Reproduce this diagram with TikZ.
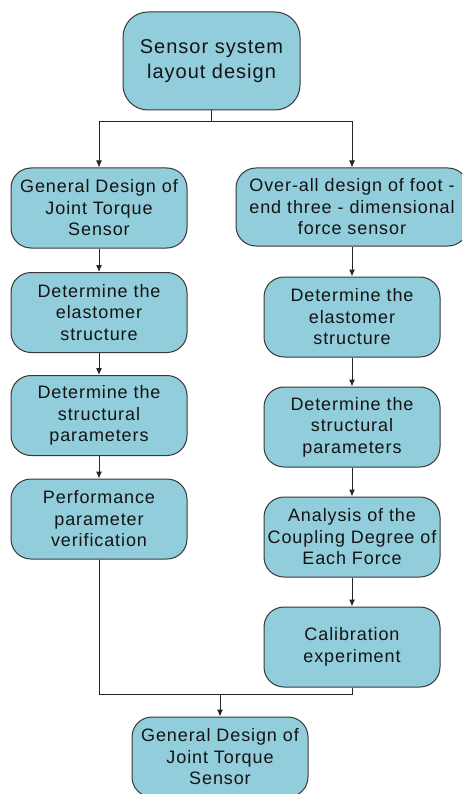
\documentclass[tikz,border=0pt]{standalone}
\usepackage{fontspec}
\setmainfont{Liberation Sans}[LetterSpace=5]
\usetikzlibrary{arrows.meta}
\definecolor{boxfill}{RGB}{146,205,220}
\definecolor{boxline}{RGB}{55,55,55}
\definecolor{txt}{RGB}{20,20,20}
\tikzset{
  stepbox/.style={draw=boxline, line width=1pt, fill=boxfill, rounded corners=20pt,
    minimum width=176pt, minimum height=80pt, inner sep=0pt, align=center,
    text=txt, font=\fontsize{18}{21.5}\selectfont},
  conn/.style={draw=black!85, line width=1pt},
  arr/.style={conn, -{Latex[length=7pt,width=6pt]}}
}
\begin{document}
\begin{tikzpicture}[x=1pt,y=-1pt]
\useasboundingbox (0,0) rectangle (461,794);
\node[stepbox, minimum width=177pt, minimum height=98pt, rounded corners=25pt,
  font=\fontsize{20}{25}\selectfont] (top) at (211.5,61) {Sensor system\\layout design};
\node[stepbox] (L1) at (99,208) {General Design of\\Joint Torque\\Sensor};
\node[stepbox] (L2) at (99,312.5) {Determine the\\elastomer\\structure};
\node[stepbox] (L3) at (99,415.5) {Determine the\\structural\\parameters};
\node[stepbox] (L4) at (99,519) {Performance\\parameter\\verification};
\node[stepbox, minimum width=232pt, minimum height=78pt] (R1) at (352,207) {Over-all design of foot -\\end three - dimensional\\force sensor};
\node[stepbox] (R2) at (352,317) {Determine the\\elastomer\\structure};
\node[stepbox] (R3) at (352,427) {Determine the\\structural\\parameters};
\node[stepbox] (R4) at (352,537) {Analysis of the\\Coupling Degree of\\Each Force};
\node[stepbox] (R5) at (352,647) {Calibration\\experiment};
\node[stepbox] (B) at (220,757) {General Design of\\Joint Torque\\Sensor};
\coordinate (jt) at (211.5,122);
\coordinate (jb) at (220,694);
\draw[conn] (top) -- (jt);
\draw[arr] (jt) -| (L1);
\draw[arr] (jt) -| (R1);
\draw[arr] (L1) -- (L2);
\draw[arr] (L2) -- (L3);
\draw[arr] (L3) -- (L4);
\draw[arr] (R1) -- (R2);
\draw[arr] (R2) -- (R3);
\draw[arr] (R3) -- (R4);
\draw[arr] (R4) -- (R5);
\draw[conn] (L4) |- (jb);
\draw[conn] (R5) |- (jb);
\draw[arr] (jb) -- (B);
\end{tikzpicture}
\end{document}
